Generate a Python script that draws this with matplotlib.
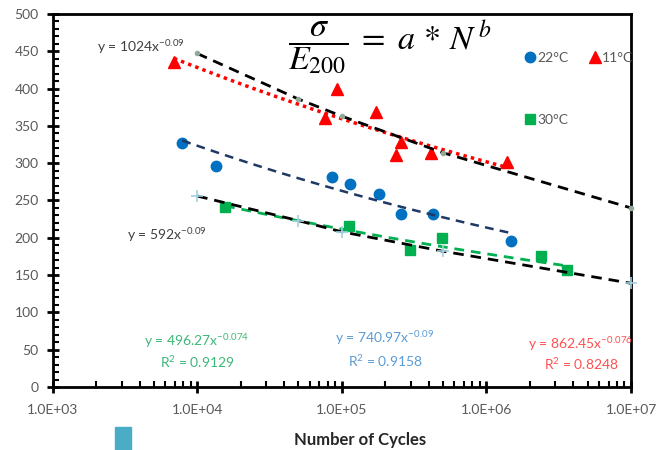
import matplotlib
matplotlib.use("Agg")
import matplotlib.pyplot as plt
import numpy as np
from matplotlib.lines import Line2D
from matplotlib.patches import Rectangle
from matplotlib.ticker import FixedLocator, FuncFormatter, MultipleLocator, LogLocator

plt.rcParams['font.family'] = ['Lato', 'DejaVu Sans']
plt.rcParams['mathtext.fontset'] = 'custom'
plt.rcParams['mathtext.rm'] = 'Lato'
plt.rcParams['mathtext.it'] = 'Lato:italic'

# measured data (cycles, stress)
n_11 = [6900, 77000, 93000, 173000, 237000, 258000, 416000, 1380000]
s_11 = [436, 361, 399, 368, 311, 329, 314, 301]
n_22 = [7900, 13500, 85500, 114500, 182000, 257000, 425000, 1490000]
s_22 = [327, 296, 282, 272, 259, 232, 232, 196]
n_30 = [15600, 113000, 294000, 493000, 2400000, 3580000]
s_30 = [241, 216, 184, 200, 176, 157]

# reference curves
n_ref = [1e4, 5e4, 1e5, 5e5, 1e7]
s_ref_hi = [447, 386, 363, 314, 240]
s_ref_lo = [256, 223, 208, 182, 139]

# excel trendline coefficients (a, b) shown on chart
fit_11 = (862.45, -0.076)
fit_22 = (740.97, -0.09)
fit_30 = (496.27, -0.074)

x_ticks = [1e3, 1e4, 1e5, 1e6, 1e7]


def trend(ax, n, fit, **kw):
    xs = np.geomspace(min(n), max(n), 50)
    ax.plot(xs, fit[0] * xs ** fit[1], zorder=4, **kw)


fig = plt.figure(figsize=(6.57, 4.5), dpi=100)
ax = fig.add_axes([0.08, 0.14, 0.8805, 0.829])

ax.plot(n_22, s_22, 'o', color='#0070C0', ms=7.5, zorder=3)
ax.plot(n_11, s_11, '^', color='#FF0000', ms=8.5, zorder=3)
ax.plot(n_30, s_30, 's', color='#00B050', ms=7, zorder=3)

ax.plot(n_ref, s_ref_hi, color='black', lw=2, dashes=(3.8, 2.5), marker='o', ms=3,
        mfc='#8faa96', mec='#8faa96', zorder=5, clip_on=False)
ax.plot(n_ref, s_ref_lo, color='black', lw=2, dashes=(3.8, 2.5), marker='+', ms=8,
        mec='#9fd3e0', mew=1.2, zorder=5, clip_on=False)

trend(ax, n_22, fit_22, color='#1F3864', lw=1.8, dashes=(3.5, 2.5))
trend(ax, n_30, fit_30, color='#00B050', lw=2, dashes=(3.5, 2.5))
trend(ax, n_11, fit_11, color='#FF0000', lw=2.5, linestyle=(0, (1, 1.2)))

ax.set_xscale('log')
ax.set_xlim(1e3, 1e7)
ax.set_ylim(0, 500)
ax.xaxis.set_major_locator(FixedLocator(x_ticks))
ax.xaxis.set_major_formatter(FuncFormatter(lambda v, p: f'{v:.1E}'))
ax.xaxis.set_minor_locator(LogLocator(base=10, subs=np.arange(2, 10)))
ax.xaxis.set_minor_formatter(FuncFormatter(lambda v, p: ''))
ax.yaxis.set_major_locator(MultipleLocator(50))
ax.yaxis.set_minor_locator(MultipleLocator(10))

for sp in ax.spines.values():
    sp.set_linewidth(2)
ax.tick_params(which='major', direction='inout', length=8, width=2,
               labelsize=10, labelcolor='#595959', pad=6)
ax.tick_params(which='minor', direction='in', length=4, width=1.5)
ax.tick_params(axis='x', which='major', pad=8)

# legend
handles = [
    Line2D([], [], marker='o', ls='none', color='#0070C0', ms=7.5),
    Line2D([], [], marker='s', ls='none', color='#00B050', ms=7),
    Line2D([], [], marker='^', ls='none', color='#FF0000', ms=8.5),
    Line2D([], [], ls='none'),
]
labels = ['22°C', '30°C', '11°C', '']
ax.legend(handles, labels, ncol=2, loc='upper left', bbox_to_anchor=(0.806, 0.917),
          frameon=False, borderpad=0, handlelength=0.6, handletextpad=0.2,
          columnspacing=1.6, labelspacing=3.6, fontsize=10, labelcolor='#595959')

# equations
fig.text(288 / 657, 1 - 48 / 450, r'$\dfrac{\sigma}{E_{200}}\;=\;a\,*\,N^{\,b}$', fontsize=24.5,
         math_fontfamily='stix', va='center', ha='left')
fig.text(97 / 657, 1 - 47 / 450, r'y = 1024x$^{-0.09}$', fontsize=10, color='#404040',
         va='center', ha='left')
fig.text(127 / 657, 1 - 235 / 450, r'y = 592x$^{-0.09}$', fontsize=10, color='#404040',
         va='center', ha='left')

fig.text(197 / 657, 1 - 341 / 450, r'y = 496.27x$^{-0.074}$', fontsize=10, color='#3CB878',
         va='center', ha='center')
fig.text(197 / 657, 1 - 362 / 450, r'R$^2$ = 0.9129', fontsize=10, color='#3CB878',
         va='center', ha='center')
fig.text(385 / 657, 1 - 338 / 450, r'y = 740.97x$^{-0.09}$', fontsize=10, color='#5B9BD5',
         va='center', ha='center')
fig.text(385 / 657, 1 - 361 / 450, r'R$^2$ = 0.9158', fontsize=10, color='#5B9BD5',
         va='center', ha='center')
fig.text(580 / 657, 1 - 344 / 450, r'y = 862.45x$^{-0.076}$', fontsize=10, color='#FF5050',
         va='center', ha='center')
fig.text(581 / 657, 1 - 364 / 450, r'R$^2$ = 0.8248', fontsize=10, color='#FF5050',
         va='center', ha='center')

fig.text(360 / 657, 1 - 440 / 450, 'Number of Cycles', fontsize=12, fontweight='bold',
         color='#262626', va='center', ha='center')

fig.patches.append(Rectangle((115 / 657, 0), 16 / 657, 23 / 450, transform=fig.transFigure,
                             color='#4BACC6', figure=fig))

fig.savefig('out.png', dpi=100)
